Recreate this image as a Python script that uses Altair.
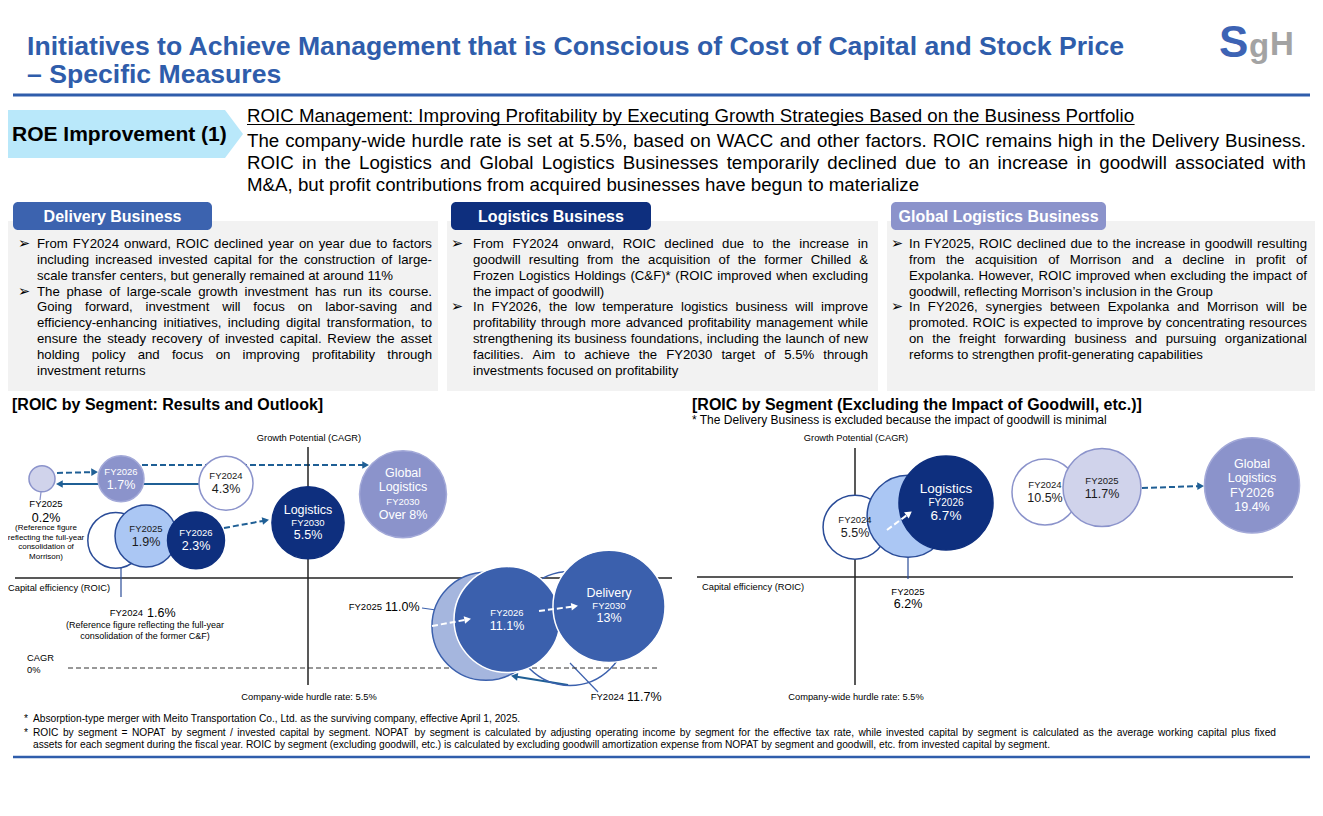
import math
import altair as alt
import pandas as pd

FONT = "Liberation Sans"
SYMBOL_FONT = "DejaVu Sans"

# ================= text content =================
TITLE_LINES = [
    "Initiatives to Achieve Management that is Conscious of Cost of Capital and Stock Price",
    "– Specific Measures",
]
BADGE_TEXT = "ROE Improvement (1)"
HEADLINE = "ROIC Management: Improving Profitability by Executing Growth Strategies Based on the Business Portfolio"
LEAD_LINES = [
    "The company-wide hurdle rate is set at 5.5%, based on WACC and other factors. ROIC remains high in the Delivery Business.",
    "ROIC in the Logistics and Global Logistics Businesses temporarily declined due to an increase in goodwill associated with",
    "M&A, but profit contributions from acquired businesses have begun to materialize",
]
BOX_TITLES = ["Delivery Business", "Logistics Business", "Global Logistics Business"]
BOX_PARAGRAPHS = [
    [
        ["From FY2024 onward, ROIC declined year on year due to factors",
         "including increased invested capital for the construction of large-",
         "scale transfer centers, but generally remained at around 11%"],
        ["The phase of large-scale growth investment has run its course.",
         "Going forward, investment will focus on labor-saving and",
         "efficiency-enhancing initiatives, including digital transformation, to",
         "ensure the steady recovery of invested capital. Review the asset",
         "holding policy and focus on improving profitability through",
         "investment returns"],
    ],
    [
        ["From FY2024 onward, ROIC declined due to the increase in",
         "goodwill resulting from the acquisition of the former Chilled &",
         "Frozen Logistics Holdings (C&F)* (ROIC improved when excluding",
         "the impact of goodwill)"],
        ["In FY2026, the low temperature logistics business will improve",
         "profitability through more advanced profitability management while",
         "strengthening its business foundations, including the launch of new",
         "facilities. Aim to achieve the FY2030 target of 5.5% through",
         "investments focused on profitability"],
    ],
    [
        ["In FY2025, ROIC declined due to the increase in goodwill resulting",
         "from the acquisition of Morrison and a decline in profit of",
         "Expolanka. However, ROIC improved when excluding the impact of",
         "goodwill, reflecting Morrison’s inclusion in the Group"],
        ["In FY2026, synergies between Expolanka and Morrison will be",
         "promoted. ROIC is expected to improve by concentrating resources",
         "on the freight forwarding business and pursuing organizational",
         "reforms to strengthen profit-generating capabilities"],
    ],
]
CHART_TITLES = ["[ROIC by Segment: Results and Outlook]",
                "[ROIC by Segment (Excluding the Impact of Goodwill, etc.)]"]
CHART_NOTE = "* The Delivery Business is excluded because the impact of goodwill is minimal"
AXIS_Y_TEXT = "Growth Potential (CAGR)"
AXIS_X_TEXT = "Capital efficiency (ROIC)"
HURDLE_TEXT = "Company-wide hurdle rate: 5.5%"
HURDLE_RATE = 5.5
CAGR_TEXT = ["CAGR", "0%"]
NOTE_MORRISON = ["(Reference figure", "reflecting the full-year", "consolidation of", "Morrison)"]
NOTE_CF = ["(Reference figure reflecting the full-year", "consolidation of the former C&F)"]
FOOTNOTES = [
    "Absorption-type merger with Meito Transportation Co., Ltd. as the surviving company, effective April 1, 2025.",
    "ROIC by segment = NOPAT by segment / invested capital by segment. NOPAT by segment is calculated by adjusting operating income by segment for the effective tax rate, while invested capital by segment is calculated as the average working capital plus fixed",
    "assets for each segment during the fiscal year. ROIC by segment (excluding goodwill, etc.) is calculated by excluding goodwill amortization expense from NOPAT by segment and goodwill, etc. from invested capital by segment.",
]

# ================= bubble data =================
# Left: ROIC by segment, results and outlook (drawn back to front)
L_ID = ["G30", "G24", "G26", "G25", "L30", "L24", "L25", "L26", "D24", "D25", "D26", "D30"]
L_SEGMENT = ["Global Logistics"] * 4 + ["Logistics"] * 4 + ["Delivery"] * 4
L_YEAR = ["FY2030", "FY2024", "FY2026", "FY2025", "FY2030", "FY2024", "FY2025", "FY2026",
          "FY2024", "FY2025", "FY2026", "FY2030"]
L_ROIC = [8.0, 4.3, 1.7, 0.2, 5.5, 1.6, 1.9, 2.3, 11.7, 11.0, 11.1, 13.0]
L_LABEL = ["Over 8%", "4.3%", "1.7%", "0.2%", "5.5%", "1.6%", "1.9%", "2.3%",
           "11.7%", "11.0%", "11.1%", "13%"]
L_GROWTH = [7.9, 8.4, 8.6, 8.6, 6.6, 5.8, 6.0, 5.8, 1.8, 1.9, 2.2, 2.8]
L_WEIGHT = [18.9, 7.3, 5.3, 1.7, 13.0, 7.8, 9.6, 8.1, 32.5, 29.2, 28.1, 31.4]
L_KIND = ["g_mid", "g_out", "g_mid", "g_light", "l_dark", "l_out", "l_light", "l_dark",
          "d_out", "d_light", "d_mid", "d_mid"]

# Right: ROIC by segment excluding goodwill
R_ID = ["L24", "L25", "L26", "G24", "G25", "G26"]
R_SEGMENT = ["Logistics"] * 3 + ["Global Logistics"] * 3
R_YEAR = ["FY2024", "FY2025", "FY2026", "FY2024", "FY2025", "FY2026"]
R_ROIC = [5.5, 6.2, 6.7, 10.5, 11.7, 19.4]
R_LABEL = ["5.5%", "6.2%", "6.7%", "10.5%", "11.7%", "19.4%"]
R_GROWTH = [6.4, 6.9, 7.5, 8.0, 8.2, 8.3]
R_WEIGHT = [10.2, 16.8, 22.1, 10.9, 15.2, 22.6]
R_KIND = ["l_out", "l_light", "l_dark", "g_out", "g_light", "g_mid"]

# ================= styles =================
BLUE = "#2F5DAB"
NAVY = "#0E2F7E"
DELIV = "#3B60AD"
LAV = "#8B93CB"
ARROW = "#1F5F95"
BADGE = "#B9E8FA"
GRAY_BG = "#F2F2F2"
TAB_COLORS = ["#3C63AF", NAVY, LAV]

KIND_KEYS = ["g_light", "g_mid", "g_out", "l_out", "l_light", "l_dark", "d_out", "d_light", "d_mid"]
KIND_FILL = ["#D0D3EB", LAV, "#FFFFFF", "#FFFFFF", "#ABC7F4", NAVY, "transparent", "#A5B6DE", DELIV]
KIND_STROKE = [LAV, "#A3A9D8", LAV, "#2A4C98", "#2A4C98", NAVY, DELIV, DELIV, "#FFFFFF"]
WHITE_TEXT = {"g_mid", "l_dark", "d_mid"}

# ================= Arial / Liberation Sans metrics (1/1000 em) =================
REG = {}
REG.update(zip("ABCDEFGHIJKLMNOPQRSTUVWXYZ",
               [667, 667, 722, 722, 667, 611, 778, 722, 278, 500, 667, 556, 833, 722, 778, 667, 778, 722,
                667, 611, 722, 667, 944, 667, 667, 611]))
REG.update(zip("abcdefghijklmnopqrstuvwxyz",
               [556, 556, 500, 556, 556, 278, 556, 556, 222, 222, 500, 222, 833, 556, 556, 556, 556, 333,
                500, 278, 556, 500, 722, 500, 500, 500]))
REG.update({c: 556 for c in "0123456789"})
REG.update({" ": 278, ",": 278, ".": 278, "-": 333, "(": 333, ")": 333, "*": 389, "&": 667, "%": 889,
            ":": 278, ";": 278, "/": 278, "=": 584, "’": 222, "'": 191, "–": 556, "+": 584})
BOLD = {}
BOLD.update(zip("ABCDEFGHIJKLMNOPQRSTUVWXYZ",
                [722, 722, 722, 722, 667, 611, 778, 722, 278, 556, 722, 611, 833, 722, 778, 667, 778, 722,
                 667, 611, 722, 667, 944, 667, 667, 611]))
BOLD.update(zip("abcdefghijklmnopqrstuvwxyz",
                [556, 611, 556, 611, 556, 333, 611, 611, 278, 278, 556, 278, 889, 611, 611, 611, 611, 389,
                 556, 333, 611, 556, 778, 556, 556, 500]))
BOLD.update({c: 556 for c in "0123456789"})
BOLD.update({" ": 278, ",": 278, ".": 278, "-": 333, "(": 333, ")": 333, "[": 333, "]": 333, ":": 333,
             "%": 889, "&": 722, "*": 389, "–": 556, "/": 278})


def text_w(s, size, bold=False):
    tbl = BOLD if bold else REG
    return sum(tbl.get(c, 556) for c in s) * size / 1000.0


# ================= canvas scales (reference pixel coordinates) =================
W, H = 1307, 800
SX = alt.Scale(domain=[8, 8 + W], range=[0, W], nice=False, zero=False)
SY = alt.Scale(domain=[8, 8 + H], range=[0, H], nice=False, zero=False)

text_rows, rules, dashed, rects, heads = [], [], [], [], []
white_dashed, white_heads = [], []


def T(x, y, t, size, color="#000000", weight="normal", align="left", baseline="alphabetic", font=FONT):
    text_rows.append(dict(x=x, y=y, t=t, size=size, color=color, weight=weight,
                          align=align, baseline=baseline, font=font))


def justified(line, x0, x1, y, size, justify=True, color="#000000"):
    words = line.split(" ")
    if not justify or len(words) == 1:
        T(x0, y, line, size, color)
        return
    ws = [text_w(w, size) for w in words]
    gap = (x1 - x0 - sum(ws)) / (len(words) - 1)
    x = x0
    for w, wd in zip(words, ws):
        T(x, y, w, size, color)
        x += wd + gap


def arrow(x1, y1, x2, y2, dash=False, color=ARROW, white=False, width=2.0):
    dx, dy = x2 - x1, y2 - y1
    L = math.hypot(dx, dy)
    ux, uy = dx / L, dy / L
    seg = dict(x=x1, y=y1, x2=x2 - ux * 5, y2=y2 - uy * 5, color=color, w=width)
    ang = (math.degrees(math.atan2(dx, -dy)) + 360) % 360
    head = dict(x=x2 - ux * 3.5, y=y2 - uy * 3.5, ang=ang, color=color)
    if white:
        white_dashed.append(seg)
        white_heads.append(head)
    else:
        (dashed if dash else rules).append(seg)
        heads.append(head)


# ---------- title + logo ----------
T(27, 55, TITLE_LINES[0], 26.6, BLUE, "bold")
T(27, 83, TITLE_LINES[1], 26.6, BLUE, "bold")
rules.append(dict(x=13, y=95, x2=1310, y2=95, color=BLUE, w=3))
T(1219, 57, "S", 44, "#3D63B4", "bold")
T(1249, 57, "g", 33, "#A3A3A3", "bold")
T(1270, 55, "H", 33, "#A3A3A3", "bold")

# ---------- badge + lead ----------
badge_df = pd.DataFrame({"x": [0, 225, 243], "y": [110, 110, 134], "y2": [158, 158, 134]})
T(12, 141, BADGE_TEXT, 21, "#000000", "bold")
HEAD_SIZE = 18.7
T(247, 122, HEADLINE, HEAD_SIZE)
rules.append(dict(x=247, y=124.5, x2=247 + text_w(HEADLINE, HEAD_SIZE), y2=124.5, color="#000000", w=1.2))
for i, line in enumerate(LEAD_LINES):
    justified(line, 247, 1306, 147 + 22 * i, HEAD_SIZE, justify=i < len(LEAD_LINES) - 1)

# ---------- three business boxes ----------
BOX_GEOM = [(7, 438, 18, 37, 432), (447, 878, 451, 473, 868), (887, 1315, 891, 909, 1307)]
TAB_GEOM = [(13, 212), (451, 651), (891, 1106)]
for b in range(3):
    bx0, bx1, bul, tx0, tx1 = BOX_GEOM[b]
    rects.append(dict(x=bx0, x2=bx1, y=221, y2=391, color=GRAY_BG, r=0))
    t0, t1 = TAB_GEOM[b]
    rects.append(dict(x=t0, x2=t1, y=202, y2=230, color=TAB_COLORS[b], r=5))
    T((t0 + t1) / 2, 222, BOX_TITLES[b], 16, "#FFFFFF", "bold", "center")
    k = 0
    for para in BOX_PARAGRAPHS[b]:
        for j, line in enumerate(para):
            y = 248.1 + 15.83 * k
            if j == 0:
                T(bul, y, "➢", 14.5, font=SYMBOL_FONT)
            justified(line, tx0, tx1, y, 13.2, justify=j < len(para) - 1)
            k += 1

# ---------- chart titles ----------
T(12, 410, CHART_TITLES[0], 16, "#000000", "bold")
T(692, 410, CHART_TITLES[1], 16, "#000000", "bold")
T(692, 424, CHART_NOTE, 12)

# ---------- chart frames ----------
for cx in (309, 856):
    T(cx, 438, AXIS_Y_TEXT, 9.3, align="center", baseline="middle")
    T(cx, 697, HURDLE_TEXT, 9.3, align="center", baseline="middle")
T(8, 588, AXIS_X_TEXT, 9.3, baseline="middle")
T(702, 587, AXIS_X_TEXT, 9.3, baseline="middle")
T(27, 658, CAGR_TEXT[0], 9.3, baseline="middle")
T(27, 670, CAGR_TEXT[1], 9.3, baseline="middle")
rules.append(dict(x=15, y=578, x2=672, y2=578, color="#222222", w=1.5))
rules.append(dict(x=697, y=577, x2=1293, y2=577, color="#222222", w=1.5))
cagr_line = [dict(x=68, y=668, x2=658, y2=668, color="#333333", w=1.2)]

# ---------- outside bubble annotations ----------
i = L_ID.index("G25")
T(46, 504, L_YEAR[i], 9.5, baseline="middle", align="center")
T(46, 518, L_LABEL[i], 12.5, baseline="middle", align="center")
for n, line in enumerate(NOTE_MORRISON):
    T(46, 528 + 9.7 * n, line, 8, baseline="middle", align="center")
rules.append(dict(x=41, y=492, x2=40, y2=500, color=LAV, w=1.2))

i = L_ID.index("L24")
T(143, 613, L_YEAR[i], 9.5, baseline="middle", align="right")
T(147, 613, L_LABEL[i], 12.5, baseline="middle")
T(145, 625, NOTE_CF[0], 9, baseline="middle", align="center")
T(145, 636, NOTE_CF[1], 9, baseline="middle", align="center")
rules.append(dict(x=121, y=567, x2=121, y2=597, color="#2A4C98", w=1.2))

i = L_ID.index("D25")
T(382, 607, L_YEAR[i], 9.5, baseline="middle", align="right")
T(385, 607, L_LABEL[i], 12.5, baseline="middle")
rules.append(dict(x=422, y=608, x2=443, y2=611, color=DELIV, w=1.2))

i = L_ID.index("D24")
T(624, 697, L_YEAR[i], 9.5, baseline="middle", align="right")
T(627, 697, L_LABEL[i], 12.5, baseline="middle")
rules.append(dict(x=570, y=663, x2=598, y2=692, color=DELIV, w=1.2))

i = R_ID.index("L25")
T(908, 592, R_YEAR[i], 9.5, baseline="middle", align="center")
T(908, 604, R_LABEL[i], 12.5, baseline="middle", align="center")
rules.append(dict(x=908, y=553, x2=908, y2=579, color="#2A4C98", w=1.2))

# ---------- arrows ----------
arrow(57, 473, 97, 472, dash=True)
arrow(199, 484, 57, 484)
arrow(142, 465, 368, 465, dash=True)
arrow(90, 539, 114, 539)
arrow(224, 528, 268, 520, dash=True)
arrow(568, 685, 512, 676)
arrow(1142, 488, 1203, 486, dash=True)
arrow(432, 626, 470, 619, white=True, color="#FFFFFF")
arrow(539, 611, 577, 606, white=True, color="#FFFFFF")
arrow(887, 530, 911, 512, white=True, color="#FFFFFF")

# ---------- footnotes ----------
FN = 10.2
T(24, 722, "*", FN)
T(33, 722, FOOTNOTES[0], FN)
T(24, 736, "*", FN)
justified(FOOTNOTES[1], 33, 1276, 736, FN)
T(33, 748, FOOTNOTES[2], FN)
rules.append(dict(x=13, y=757, x2=1310, y2=757, color=BLUE, w=2.5))


# ================= layer builders =================
def PX(f="x"):
    return alt.X(f"{f}:Q", scale=SX, axis=None)


def PY(f="y"):
    return alt.Y(f"{f}:Q", scale=SY, axis=None)


def text_layers(rows):
    df = pd.DataFrame(rows)
    out = []
    for (wt, al, bl, fnt), g in df.groupby(["weight", "align", "baseline", "font"], sort=False):
        out.append(
            alt.Chart(g.reset_index(drop=True)).mark_text(font=fnt, fontWeight=wt, align=al, baseline=bl).encode(
                x=PX(), y=PY(), text=alt.Text("t:N"),
                size=alt.Size("size:Q", scale=None, legend=None),
                color=alt.Color("color:N", scale=None, legend=None)))
    return out


def rule_layer(rows, dash=None):
    kw = {"strokeDash": dash} if dash else {}
    return alt.Chart(pd.DataFrame(rows)).mark_rule(**kw).encode(
        x=PX(), y=PY(), x2=alt.X2("x2:Q"), y2=alt.Y2("y2:Q"),
        color=alt.Color("color:N", scale=None, legend=None),
        strokeWidth=alt.StrokeWidth("w:Q", scale=None, legend=None))


def head_layer(rows):
    return alt.Chart(pd.DataFrame(rows)).mark_point(shape="triangle", filled=True, opacity=1, size=60).encode(
        x=PX(), y=PY(), angle=alt.Angle("ang:Q", scale=None),
        color=alt.Color("color:N", scale=None, legend=None))


rect_df = pd.DataFrame(rects)
rect_layers = []
for r, g in rect_df.groupby("r", sort=False):
    rect_layers.append(alt.Chart(g.reset_index(drop=True)).mark_rect(cornerRadius=float(r)).encode(
        x=PX(), x2=alt.X2("x2:Q"), y=PY(), y2=alt.Y2("y2:Q"),
        color=alt.Color("color:N", scale=None, legend=None)))

badge_layer = alt.Chart(badge_df).mark_area(color=BADGE, opacity=1).encode(x=PX(), y=PY(), y2=alt.Y2("y2:Q"))

decor_under = alt.layer(
    *rect_layers, badge_layer,
    rule_layer(rules), rule_layer(dashed, [6, 3]), rule_layer(cagr_line, [5, 3]),
    head_layer(heads),
    *text_layers(text_rows),
)
decor_over = alt.layer(rule_layer(white_dashed, [6, 3]), head_layer(white_heads))

# ================= bubble charts =================
YS = alt.Scale(domain=[0, 10], range=[660, 440], nice=False, zero=False)
SIZE = alt.Scale(type="linear", domain=[0, 100], range=[0, 40000])
# schematic (piecewise) ROIC axes, as laid out on the slide
LX = alt.Scale(domain=[0.2, 1.7, 2.3, 4.3, 5.5, 8.0, 11.0, 11.1, 11.7, 13.0],
               range=[34, 113, 188, 218, 300, 395, 478, 499, 562, 601], nice=False, zero=False)
RX = alt.Scale(domain=[5.5, 6.7, 10.5, 11.7, 19.4],
               range=[847, 938, 1037, 1094, 1244], nice=False, zero=False)

TWO = [("year", 9.5, -7), ("value", 12.5, 6)]
THREE = [("name0", 12.5, -13), ("year", 9.5, 0), ("value", 12.5, 12)]
FOUR = [("name0", 12.5, -21), ("name1", 12.5, -7), ("year", 9.5, 8), ("value", 12.5, 21)]
THREE_BIG = [("name0", 13.5, -14), ("year", 10, 0), ("value", 13.5, 13)]
FOUR_BIG = [("name0", 12.5, -21), ("name1", 12.5, -7), ("year", 12.5, 8), ("value", 12.5, 22)]
L_INSIDE = {"G30": FOUR, "G24": TWO, "G26": TWO, "L30": THREE, "L25": TWO, "L26": TWO, "D26": TWO, "D30": THREE}
R_INSIDE = {"L24": TWO, "L26": THREE_BIG, "G24": TWO, "G25": TWO, "G26": FOUR_BIG}


def bubble_chart(ids, segs, years, labels, roic, growth, weight, kinds, inside, xs, y_top, y_bot):
    df = pd.DataFrame({"id": ids, "roic": roic, "growth": growth, "weight": weight, "kind": kinds,
                       "z": list(range(len(ids)))})
    hurdle = alt.Chart(pd.DataFrame({"h": [HURDLE_RATE]})).mark_rule(color="#222222", strokeWidth=1.5).encode(
        x=alt.X("h:Q", scale=xs, axis=None), y=alt.value(y_top - 8), y2=alt.value(y_bot - 8))
    bubbles = alt.Chart(df).mark_point(shape="circle", filled=True, opacity=1, strokeWidth=1.5).encode(
        x=alt.X("roic:Q", scale=xs, axis=None),
        y=alt.Y("growth:Q", scale=YS, axis=None),
        size=alt.Size("weight:Q", scale=SIZE, legend=None),
        fill=alt.Fill("kind:N", scale=alt.Scale(domain=KIND_KEYS, range=KIND_FILL), legend=None),
        stroke=alt.Stroke("kind:N", scale=alt.Scale(domain=KIND_KEYS, range=KIND_STROKE), legend=None),
        order=alt.Order("z:Q"))
    rows = []
    for i, bid in enumerate(ids):
        if bid not in inside:
            continue
        names = segs[i].split(" ")
        for kind, size, dy in inside[bid]:
            if kind == "year":
                t = years[i]
            elif kind == "value":
                t = labels[i]
            else:
                t = names[int(kind[-1])]
            rows.append(dict(roic=roic[i], growth=growth[i], t=t, size=size, dy=dy,
                             color="#FFFFFF" if kinds[i] in WHITE_TEXT else "#1A1A1A"))
    ldf = pd.DataFrame(rows)
    label_layers = []
    for dy, g in ldf.groupby("dy", sort=True):
        label_layers.append(alt.Chart(g.reset_index(drop=True)).mark_text(
            font=FONT, align="center", baseline="middle", dy=float(dy)).encode(
            x=alt.X("roic:Q", scale=xs, axis=None), y=alt.Y("growth:Q", scale=YS, axis=None),
            text=alt.Text("t:N"), size=alt.Size("size:Q", scale=None, legend=None),
            color=alt.Color("color:N", scale=None, legend=None)))
    return alt.layer(hurdle, bubbles, *label_layers)


left_chart = bubble_chart(L_ID, L_SEGMENT, L_YEAR, L_LABEL, L_ROIC, L_GROWTH, L_WEIGHT, L_KIND,
                          L_INSIDE, LX, 447, 685)
right_chart = bubble_chart(R_ID, R_SEGMENT, R_YEAR, R_LABEL, R_ROIC, R_GROWTH, R_WEIGHT, R_KIND,
                           R_INSIDE, RX, 448, 685)

chart = alt.layer(decor_under, left_chart, right_chart, decor_over).resolve_scale(
    x="independent", y="independent", size="independent", fill="independent", stroke="independent",
    color="independent", angle="independent"
).properties(
    width=W, height=H, autosize=alt.AutoSizeParams(type="none"), padding=0, background="white"
).configure_view(stroke=None)

chart.save("out.html", embed_options={"renderer": "svg", "actions": False})
